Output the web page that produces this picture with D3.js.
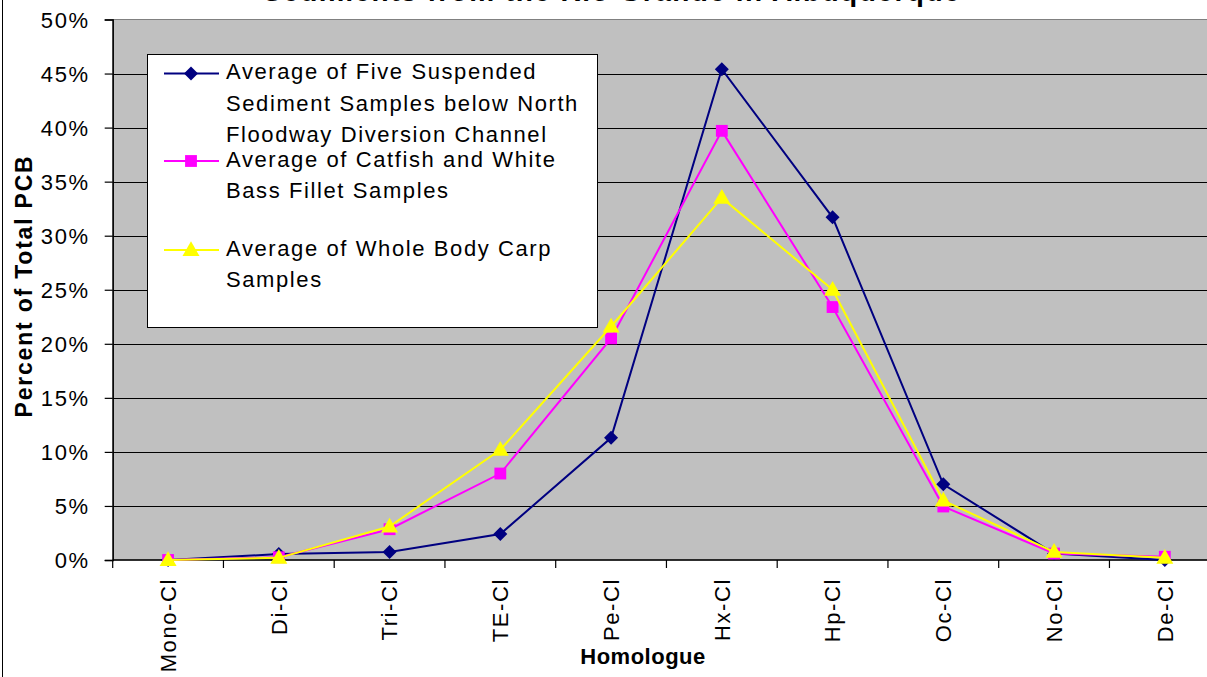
<!DOCTYPE html>
<html>
<head>
<meta charset="utf-8">
<script src="https://cdn.jsdelivr.net/npm/d3@7"></script>
<style>
  html, body { margin: 0; padding: 0; background: #fff; overflow: hidden; }
  svg { display: block; font-family: Arial, "Liberation Sans", sans-serif; }
  .tick text { font-size: 22px; letter-spacing: 1.6px; fill: #000; }
</style>
</head>
<body>
<svg id="chart" width="1207" height="677"></svg>
<script>
// PCB homologue distribution (percent of total PCB)
const categories = ["Mono-Cl", "Di-Cl", "Tri-Cl", "TE-Cl", "Pe-Cl", "Hx-Cl", "Hp-Cl", "Oc-Cl", "No-Cl", "De-Cl"];
const sediment = [0.0, 0.55, 0.75, 2.4, 11.3, 45.4, 31.7, 7.0, 0.6, 0.0];
const fillet   = [0.0, 0.25, 2.85, 8.0, 20.5, 39.7, 23.4, 4.95, 0.6, 0.3];
const carp     = [0.0, 0.2, 3.1, 10.2, 21.6, 33.5, 25.0, 5.5, 0.75, 0.2];
const yTicks = [0, 5, 10, 15, 20, 25, 30, 35, 40, 45, 50];

const seriesNames = [
  ["Average of Five Suspended", "Sediment Samples below North", "Floodway Diversion Channel"],
  ["Average of Catfish and White", "Bass Fillet Samples"],
  ["Average of Whole Body Carp", "Samples"]
];
const titleText = "Sediments from the Rio Grande in Albuquerque";

const series = [
  { values: sediment, color: "#000080", marker: "diamond", name: seriesNames[0] },
  { values: fillet,   color: "#ff00ff", marker: "square",  name: seriesNames[1] },
  { values: carp,     color: "#ffff00", marker: "triangle", name: seriesNames[2] }
];

const svg = d3.select("#chart");
const plot = { left: 112.7, right: 1220.2, top: 19.5, bottom: 560 };

const x = d3.scaleBand().domain(categories).range([plot.left, plot.right]);
const y = d3.scaleLinear().domain([0, 50]).range([plot.bottom, plot.top]);
const cx = c => x(c) + x.bandwidth() / 2;

// chart area border
svg.append("rect")
  .attr("x", 2.5).attr("y", -10).attr("width", 1400).attr("height", 1000)
  .attr("fill", "#fff").attr("stroke", "#000").attr("stroke-width", 1);

// title (top line runs off the canvas)
svg.append("text")
  .attr("x", 612).attr("y", 1)
  .attr("text-anchor", "middle")
  .style("font-size", "28px").style("font-weight", "bold").style("letter-spacing", "1.5px")
  .text(titleText);

// plot area
svg.append("rect")
  .attr("x", plot.left).attr("y", plot.top)
  .attr("width", plot.right - plot.left).attr("height", plot.bottom - plot.top)
  .attr("fill", "#c0c0c0").attr("stroke", "#808080").attr("stroke-width", 1);

// gridlines
svg.append("g")
  .selectAll("line")
  .data(yTicks.filter(d => d > 0 && d < 50))
  .join("line")
  .attr("x1", plot.left).attr("x2", plot.right)
  .attr("y1", d => Math.round(y(d)) + 0.5).attr("y2", d => Math.round(y(d)) + 0.5)
  .attr("stroke", "#000").attr("stroke-width", 1.2);

// y axis
const yAxis = svg.append("g")
  .attr("transform", `translate(${plot.left},0)`)
  .call(d3.axisLeft(y).tickValues(yTicks).tickSize(8).tickPadding(15).tickFormat(d => d + "%"));
yAxis.select(".domain").attr("stroke", "#000").attr("stroke-width", 1.5);
yAxis.selectAll(".tick line").attr("stroke", "#000").attr("stroke-width", 1.2);
yAxis.selectAll(".tick text").attr("dy", "0.36em");

// x axis: ticks sit on category boundaries
const xAxis = svg.append("g")
  .attr("transform", `translate(0,${plot.bottom})`)
  .call(d3.axisBottom(x).tickSize(0).tickPadding(0));
xAxis.select(".domain").remove();
xAxis.selectAll(".tick text")
  .attr("transform", "translate(0,18) rotate(-90)")
  .attr("text-anchor", "end")
  .attr("x", 0).attr("y", 0)
  .attr("dy", "0.36em");
svg.append("line")
  .attr("x1", plot.left).attr("x2", plot.right)
  .attr("y1", plot.bottom).attr("y2", plot.bottom)
  .attr("stroke", "#000").attr("stroke-width", 1.5);
const bounds = categories.map(c => x(c)).concat([x(categories[categories.length - 1]) + x.bandwidth()]);
svg.append("g").selectAll("line")
  .data(bounds).join("line")
  .attr("x1", d => d).attr("x2", d => d)
  .attr("y1", plot.bottom).attr("y2", plot.bottom + 8)
  .attr("stroke", "#000").attr("stroke-width", 1.2);

// axis titles
svg.append("text")
  .attr("x", 643).attr("y", 664)
  .attr("text-anchor", "middle")
  .style("font-size", "22px").style("font-weight", "bold").style("letter-spacing", "0.5px")
  .text("Homologue");
svg.append("text")
  .attr("transform", "translate(32,286) rotate(-90)")
  .attr("text-anchor", "middle")
  .style("font-size", "23px").style("font-weight", "bold").style("letter-spacing", "1.8px")
  .text("Percent of Total PCB");

// markers
const symbolFor = {
  diamond: d3.symbol().type(d3.symbolDiamond2).size(125),
  square: d3.symbol().type(d3.symbolSquare).size(140),
  triangle: d3.symbol().type(d3.symbolTriangle).size(125)
};
function drawMarker(g, s, px, py) {
  let yOff = s.marker === "triangle" ? 1 : 0;
  g.append("path")
    .attr("d", symbolFor[s.marker]())
    .attr("transform", `translate(${px},${py + yOff})`)
    .attr("fill", s.color).attr("stroke", "none");
}

const line = d3.line().x((d, i) => cx(categories[i])).y(d => y(d));
series.forEach(s => {
  const g = svg.append("g");
  g.append("path")
    .datum(s.values)
    .attr("d", line)
    .attr("fill", "none").attr("stroke", s.color).attr("stroke-width", 2);
  s.values.forEach((v, i) => drawMarker(g, s, cx(categories[i]), y(v)));
});

// legend
const legend = svg.append("g");
legend.append("rect")
  .attr("x", 147.5).attr("y", 54.5).attr("width", 450).attr("height", 273)
  .attr("fill", "#fff").attr("stroke", "#000").attr("stroke-width", 1);
const entryTop = [71.5, 159, 248];
const lineGap = 31.5;
series.forEach((s, k) => {
  const my = entryTop[k] + 2;
  legend.append("line")
    .attr("x1", 164).attr("x2", 219).attr("y1", my).attr("y2", my)
    .attr("stroke", s.color).attr("stroke-width", 2);
  drawMarker(legend, s, 191, my);
  s.name.forEach((t, j) => {
    legend.append("text")
      .attr("x", 226).attr("y", entryTop[k] + j * lineGap)
      .attr("dy", "0.36em")
      .style("font-size", "22px").style("letter-spacing", "1.6px")
      .text(t);
  });
});
</script>
</body>
</html>
